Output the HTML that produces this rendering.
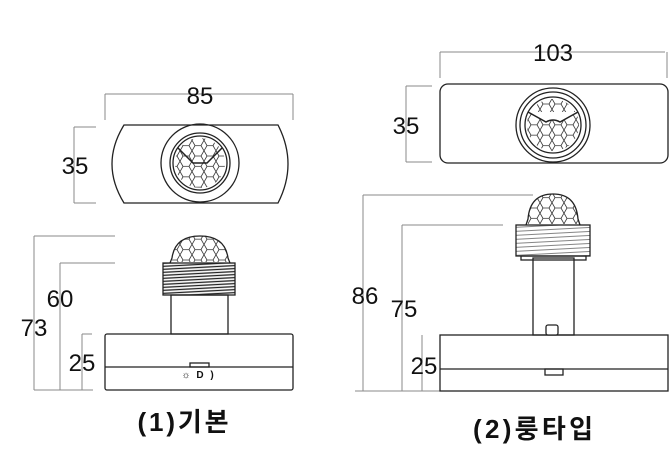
<!DOCTYPE html>
<html><head><meta charset="utf-8"><style>
html,body{margin:0;padding:0;background:#fff;}
svg{display:block;}
text{font-family:"Liberation Sans","Noto Sans CJK KR",sans-serif;fill:#111;}
</style></head><body>
<svg width="672" height="475" viewBox="0 0 672 475" xmlns="http://www.w3.org/2000/svg">
<defs>
<pattern id="hex" width="12" height="10.4" patternUnits="userSpaceOnUse">
<path d="M0 5.2 L3 0 L9 0 L12 5.2 L9 10.4 L3 10.4 Z" fill="none" stroke="#333" stroke-width="0.8"/>
</pattern>
<pattern id="thread" width="4" height="3" patternUnits="userSpaceOnUse" patternTransform="rotate(-3)">
<line x1="0" y1="1.5" x2="4" y2="1.5" stroke="#222" stroke-width="1.3"/>
</pattern>
<pattern id="thread2" width="4" height="4" patternUnits="userSpaceOnUse" patternTransform="rotate(-3)">
<line x1="0" y1="2" x2="4" y2="2" stroke="#666" stroke-width="0.8"/>
</pattern>
<clipPath id="c1"><circle cx="200" cy="163" r="25"/></clipPath>
<clipPath id="c2"><circle cx="553" cy="125" r="26"/></clipPath>
<clipPath id="d1"><path d="M172 262 Q172 236 200 236 Q228 236 228 262 Z"/></clipPath>
<clipPath id="d2"><path d="M528 224 Q528 194 553 194 Q578 194 578 224 Z"/></clipPath>
</defs>
<g stroke="#888" stroke-width="1" fill="none">
<line x1="105" y1="94" x2="293" y2="94"/><line x1="105" y1="94" x2="105" y2="120"/><line x1="293" y1="94" x2="293" y2="120"/>
<line x1="74" y1="127" x2="74" y2="203"/><line x1="74" y1="127" x2="96" y2="127"/><line x1="74" y1="203" x2="96" y2="203"/>
<line x1="34" y1="236" x2="34" y2="390"/><line x1="34" y1="236" x2="115" y2="236"/>
<line x1="60" y1="263" x2="60" y2="390"/><line x1="60" y1="263" x2="115" y2="263"/>
<line x1="82" y1="334" x2="82" y2="390"/><line x1="82" y1="334" x2="92" y2="334"/>
<line x1="34" y1="390" x2="93" y2="390"/>
<line x1="440" y1="52" x2="665" y2="52"/><line x1="440" y1="52" x2="440" y2="78"/><line x1="667" y1="52" x2="667" y2="78"/>
<line x1="406" y1="86" x2="406" y2="162"/><line x1="406" y1="86" x2="432" y2="86"/><line x1="406" y1="162" x2="432" y2="162"/>
<line x1="363" y1="195" x2="363" y2="391"/><line x1="363" y1="195" x2="533" y2="195"/>
<line x1="402" y1="225" x2="402" y2="391"/><line x1="402" y1="225" x2="503" y2="225"/>
<line x1="422" y1="335" x2="422" y2="391"/>
<line x1="355" y1="391" x2="440" y2="391"/>
</g>
<g stroke="#222" stroke-width="1.3" fill="none">
<path d="M124 125 L278 125 Q298 164 278 203 L124 203 Q100 164 124 125 Z"/>
<circle cx="200" cy="163" r="39"/><circle cx="200" cy="163" r="30"/><circle cx="200" cy="163" r="27"/>
<rect x="172" y="136" width="56" height="54" fill="url(#hex)" clip-path="url(#c1)" stroke="none"/>
<path d="M178 148 L193 163 L207 163 L222 148" stroke-width="1.5"/>
<rect x="105" y="334" width="188" height="56" rx="2"/>
<line x1="105" y1="367" x2="293" y2="367"/>
<rect x="190" y="363" width="19" height="4"/>
<rect x="171" y="295" width="57" height="39"/>
<rect x="163" y="263" width="72" height="32" fill="url(#thread)"/>
<rect x="172" y="236" width="56" height="27" fill="url(#hex)" clip-path="url(#d1)" stroke="none"/>
<path d="M170 263 L172 258 Q175 236 200 236 Q225 236 228 258 L230 263"/>
<rect x="440" y="84" width="228" height="79" rx="8"/>
<circle cx="553" cy="125" r="37"/><circle cx="553" cy="125" r="33"/><circle cx="553" cy="125" r="28"/>
<rect x="525" y="98" width="56" height="56" fill="url(#hex)" clip-path="url(#c2)" stroke="none"/>
<path d="M528 112 L546 122 Q553 118 560 122 L578 112" stroke-width="1.5" fill="#fff"/>
<rect x="440" y="335" width="228" height="56"/>
<line x1="440" y1="369" x2="668" y2="369"/>
<rect x="545" y="369" width="18" height="6"/>
<rect x="533" y="258" width="41" height="77"/>
<rect x="546" y="325" width="12" height="10" rx="2" fill="#fff"/>
<rect x="521" y="256" width="65" height="4"/>
<rect x="516" y="225" width="74" height="31" fill="url(#thread2)"/>
<rect x="528" y="194" width="50" height="31" fill="url(#hex)" clip-path="url(#d2)" stroke="none"/>
<path d="M526 225 L528 219 Q530 194 553 194 Q576 194 578 219 L580 225"/>
</g>
<g font-size="24">
<text x="200" y="104" text-anchor="middle">85</text>
<text x="75" y="174" text-anchor="middle">35</text>
<text x="60" y="307" text-anchor="middle">60</text>
<text x="34" y="336" text-anchor="middle">73</text>
<text x="82" y="371" text-anchor="middle">25</text>
<text x="553" y="61" text-anchor="middle">103</text>
<text x="406" y="134" text-anchor="middle">35</text>
<text x="365" y="304" text-anchor="middle">86</text>
<text x="404" y="317" text-anchor="middle">75</text>
<text x="424" y="374" text-anchor="middle">25</text>
</g>
<text x="186" y="378" font-size="10" text-anchor="middle">☼</text>
<text x="200" y="378" font-size="10" text-anchor="middle" font-weight="bold">D</text>
<text x="212" y="378" font-size="10" text-anchor="middle" font-weight="bold">)</text>
<text x="183" y="431" font-size="26" font-weight="bold" text-anchor="middle" textLength="91">(1)기본</text>
<text x="533" y="438" font-size="26" font-weight="bold" text-anchor="middle" textLength="120">(2)룽타입</text>
</svg>
</body></html>
